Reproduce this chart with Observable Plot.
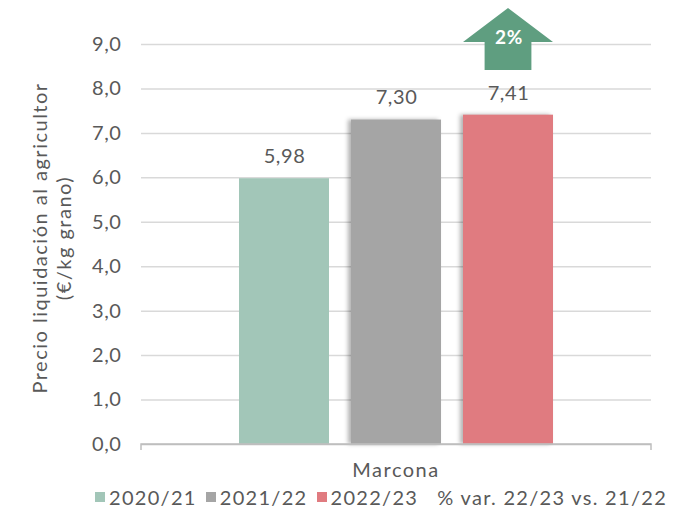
<!DOCTYPE html>
<html><head><meta charset="utf-8">
<script src="https://cdn.jsdelivr.net/npm/d3@7"></script>
<script src="https://cdn.jsdelivr.net/npm/@observablehq/plot@0.6"></script>
<style>
body{margin:0;background:#fff;font-family:"Lato","Noto Sans",sans-serif;color:#595959;}
#legend{display:flex;justify-content:flex-start;align-items:center;font-size:20px;letter-spacing:1.3px;color:#595959;padding-left:95px;margin-top:2px;white-space:nowrap;height:34px}
#legend .it{display:flex;align-items:center;margin-right:9px}
#legend .sw{width:10px;height:10px;margin-right:4px}
</style>
</head><body>
<div id="chart"></div>
<div id="legend"></div>
<script>
const category = "Marcona";
const seasons = ["2020/21", "2021/22", "2022/23"];
const prices = [5.98, 7.30, 7.41];
const colors = ["#a2c6b8", "#a5a5a5", "#e07b80"];
const yTicks = [0, 1, 2, 3, 4, 5, 6, 7, 8, 9];
const varLabel = "2%";
const varLegend = "% var. 22/23 vs. 21/22";
const yTitle = ["Precio liquidación al agricultor", "(€/kg grano)"];

const data = seasons.map((s, i) => ({season: s, price: prices[i]}));
const comma = (f) => (v) => d3.format(f)(v).replace(".", ",");

const arrowMark = (index, scales) => {
  const x = scales.x, y = scales.y;
  const bw = x.bandwidth ? x.bandwidth() : 89;
  const x0 = x(seasons[2]), x1 = x0 + bw, cx = (x0 + x1) / 2;
  const base = y(9) - 2;
  const g = d3.create("svg:g");
  const sw = bw * 0.26;
  const pts = [[x0, base], [cx, base - 34], [x1, base], [cx + sw, base], [cx + sw, base + 28], [cx - sw, base + 28], [cx - sw, base]];
  g.append("polygon").attr("points", pts.map(p => p.join(",")).join(" ")).attr("fill", "#5f9e80");
  g.append("text").attr("x", cx + 1).attr("y", base + 2).attr("text-anchor", "middle")
    .attr("fill", "white").attr("font-weight", "bold").attr("font-size", 19).text(varLabel);
  return g.node();
};

const chart = Plot.plot({
  width: 687,
  height: 478,
  marginLeft: 141,
  marginRight: 36,
  marginTop: 44,
  marginBottom: 34,
  style: {fontFamily: "Lato, 'Noto Sans', sans-serif", fontSize: "20px", color: "#595959", background: "white", overflow: "visible", letterSpacing: "0.6px"},
  x: {domain: seasons, paddingInner: 0.2, paddingOuter: 0.86, axis: null},
  y: {domain: [0, 9], ticks: yTicks, tickFormat: comma(".1f"), label: null, tickSize: 0, tickPadding: 20},
  marks: [
    Plot.ruleY(yTicks.filter(d => d > 0), {stroke: "#d9d9d9", strokeWidth: 1.5}),
    Plot.barY(data, {x: "season", y: "price", fill: (d) => colors[seasons.indexOf(d.season)]}),
    Plot.ruleY([0], {stroke: "#bfbfbf", strokeWidth: 1.5}),
    Plot.text(data, {x: "season", y: "price", text: d => comma(".2f")(d.price), dy: -22, fill: "#595959", fontSize: 20}),
    arrowMark
  ]
});

const svg = d3.select(chart);
svg.selectAll("rect").filter((d, i, n) => +n[i].getAttribute("x") > 300)
  .style("filter", "drop-shadow(-3px 0px 2px rgba(0,0,0,0.3))");
const L = 141, R = 651, Y0 = 444;
svg.append("path").attr("d", `M${L},${Y0 + 6}V${Y0}H${R}V${Y0 + 6}`).attr("fill", "none").attr("stroke", "#bfbfbf").attr("stroke-width", 1.5);
svg.append("text").attr("x", (L + R) / 2).attr("y", Y0 + 33).attr("text-anchor", "middle").attr("fill", "#595959").attr("font-size", 20).attr("letter-spacing", "1.5px").text(category);
const t = svg.append("text").attr("transform", "translate(50,238) rotate(-90)").attr("text-anchor", "middle").attr("fill", "#595959").attr("font-size", 20).attr("letter-spacing", "1.5px");
t.append("tspan").attr("x", 0).attr("dy", "-0.15em").text(yTitle[0]);
t.append("tspan").attr("x", 0).attr("dy", "1.2em").text(yTitle[1]);
document.getElementById("chart").appendChild(chart);

const leg = d3.select("#legend");
seasons.forEach((s, i) => {
  const it = leg.append("div").attr("class", "it");
  it.append("div").attr("class", "sw").style("background", colors[i]);
  it.append("span").text(s);
});
leg.append("div").attr("class", "it").style("margin-left", "10px").append("span").text(varLegend);
</script>
</body></html>
